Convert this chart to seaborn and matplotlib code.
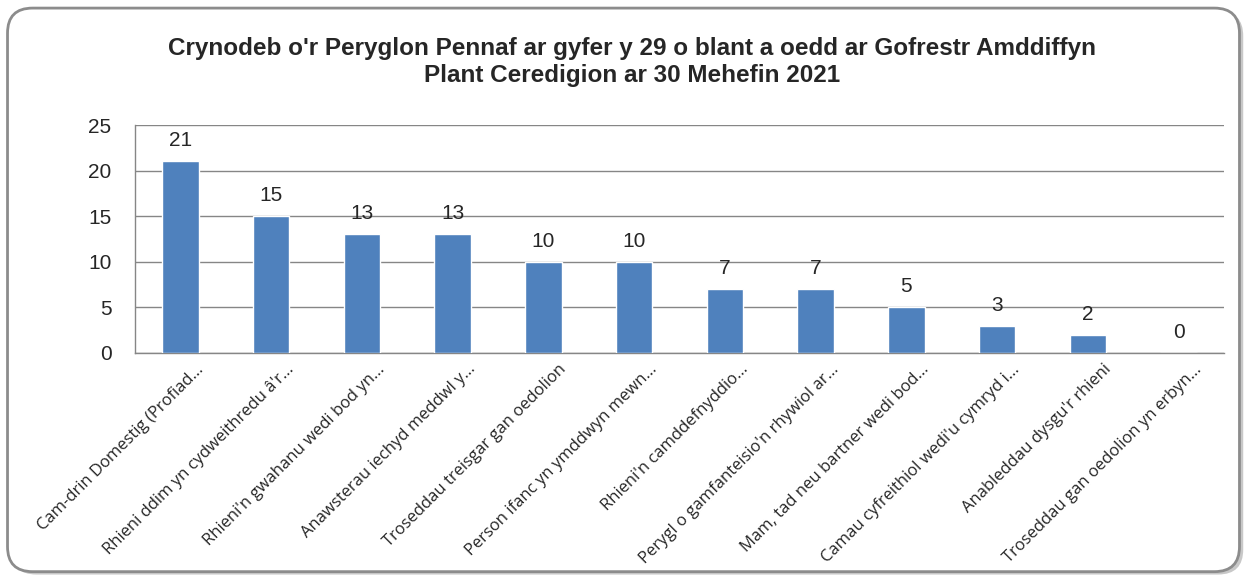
import matplotlib
matplotlib.use("Agg")
import matplotlib.pyplot as plt
import matplotlib.transforms as mtransforms
import seaborn as sns
import pandas as pd
from matplotlib.patches import FancyBboxPatch

# data
categories = [
    "Cam-drin Domestig (Profiad...",
    "Rhieni ddim yn cydweithredu â'r...",
    "Rhieni'n gwahanu wedi bod yn...",
    "Anawsterau iechyd meddwl y...",
    "Troseddau treisgar gan oedolion",
    "Person ifanc yn ymddwyn mewn...",
    "Rhieni'n camddefnyddio...",
    "Perygl o gamfanteisio'n rhywiol ar...",
    "Mam, tad neu bartner wedi bod...",
    "Camau cyfreithiol wedi'u cymryd i...",
    "Anableddau dysgu'r rhieni",
    "Troseddau gan oedolion yn erbyn...",
]
counts = [21, 15, 13, 13, 10, 10, 7, 7, 5, 3, 2, 0]
title = ("Crynodeb o'r Peryglon Pennaf ar gyfer y 29 o blant a oedd ar Gofrestr Amddiffyn\n"
         "Plant Ceredigion ar 30 Mehefin 2021")

df = pd.DataFrame({"risg": categories, "nifer": counts})

sns.set_theme(style="white")
plt.rcParams["font.family"] = ["Liberation Sans", "DejaVu Sans"]

fig = plt.figure(figsize=(12.52, 5.78), dpi=100)
ax = fig.add_axes([135 / 1252, 1 - 353 / 578, (1224 - 135) / 1252, (353 - 125) / 578])

# rounded frame with a little shadow
shadow = FancyBboxPatch((0.009, 0.006), 0.984, 0.975, boxstyle="round,pad=0,rounding_size=0.02",
                        transform=fig.transFigure, facecolor="#c8c8c8", edgecolor="none", zorder=-2,
                        mutation_aspect=1252 / 578)
frame = FancyBboxPatch((0.006, 0.011), 0.984, 0.975, boxstyle="round,pad=0,rounding_size=0.02",
                       transform=fig.transFigure, facecolor="white", edgecolor="#8c8c8c",
                       linewidth=2, zorder=-1, mutation_aspect=1252 / 578)
fig.patches.extend([shadow, frame])

sns.barplot(data=df, x="risg", y="nifer", color="#4F81BD", saturation=1, width=0.4, ax=ax, zorder=3)

ax.set_ylim(0, 25)
ax.set_yticks([0, 5, 10, 15, 20, 25])
ax.yaxis.grid(True, color="#868686", linewidth=1)
ax.set_axisbelow(True)
ax.set_xlabel("")
ax.set_ylabel("")
for s in ["top", "right"]:
    ax.spines[s].set_visible(False)
for s in ["left", "bottom"]:
    ax.spines[s].set_color("#868686")
    ax.spines[s].set_linewidth(1)
ax.tick_params(axis="y", labelsize=15, pad=17, left=False, length=0)
ax.tick_params(axis="x", bottom=False, pad=0)
ax.set_xticks(range(len(categories)))
ax.set_xticklabels(categories, rotation=45, ha="right", rotation_mode="anchor",
                   fontsize=12, family=["Open Sans", "DejaVu Sans"])
shift = mtransforms.ScaledTranslation(15 / 100, 0, fig.dpi_scale_trans)
for lbl in ax.get_xticklabels():
    lbl.set_transform(lbl.get_transform() + shift)
ax.patch.set_alpha(0)

for c in ax.containers:
    ax.bar_label(c, labels=[str(v) for v in counts], padding=8, fontsize=15)

fig.text(0.505, 0.893, title, ha="center", va="center", fontsize=17.5, fontweight="bold",
         family=["Liberation Sans Narrow", "Liberation Sans", "DejaVu Sans"], linespacing=1.25)

fig.savefig("out.png", dpi=100)
